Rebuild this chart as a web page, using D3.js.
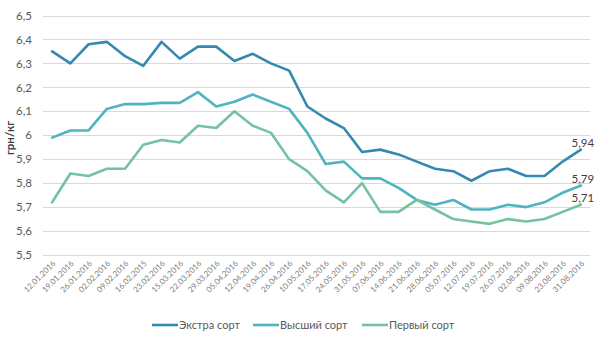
<!DOCTYPE html>
<html><head><meta charset="utf-8">
<script src="https://cdn.jsdelivr.net/npm/d3@7"></script>
<style>body{margin:0;background:#fff}svg{display:block;font-family:Lato,"Open Sans",sans-serif}</style>
</head><body><svg id="c" width="600" height="344"></svg>
<script>
const dates = ["12.01.2016","19.01.2016","26.01.2016","02.02.2016","09.02.2016","16.02.2015","23.02.2016","15.03.2016","22.03.2016","29.03.2016","05.04.2016","12.04.2016","19.04.2016","26.04.2016","10.05.2016","17.05.2016","24.05.2016","31.05.2016","07.06.2016","14.06.2016","21.06.2016","28.06.2016","05.07.2016","12.07.2016","19.07.2016","26.07.2016","02.08.2016","09.08.2016","23.08.2016","31.08.2016"];
const extra = [6.35,6.30,6.38,6.39,6.33,6.29,6.39,6.32,6.37,6.37,6.31,6.34,6.30,6.27,6.12,6.07,6.03,5.93,5.94,5.92,5.89,5.86,5.85,5.81,5.85,5.86,5.83,5.83,5.89,5.94];
const higher = [5.99,6.02,6.02,6.11,6.13,6.13,6.135,6.135,6.18,6.12,6.14,6.17,6.14,6.11,6.01,5.88,5.89,5.82,5.82,5.78,5.73,5.71,5.73,5.69,5.69,5.71,5.70,5.72,5.76,5.79];
const first = [5.72,5.84,5.83,5.86,5.86,5.96,5.98,5.97,6.04,6.03,6.10,6.04,6.01,5.90,5.85,5.77,5.72,5.80,5.68,5.68,5.73,5.69,5.65,5.64,5.63,5.65,5.64,5.65,5.68,5.71];
const seriesNames = ["Экстра сорт","Высший сорт","Первый сорт"];
const colors = ["#3589b1","#4fb4c0","#75c2a0"];
const yTicks = [5.5,5.6,5.7,5.8,5.9,6.0,6.1,6.2,6.3,6.4,6.5];
const series = [extra, higher, first];

const svg = d3.select("#c");
const x = d3.scaleBand().domain(dates).range([43,590]);
const y = d3.scaleLinear().domain([5.5,6.5]).range([255,15.5]);
const fmt = v => d3.format(".2~f")(v).replace(".", ",");

svg.append("g").selectAll("line").data(yTicks).join("line")
  .attr("x1",43).attr("x2",590).attr("y1",d=>Math.round(y(d))+0.5).attr("y2",d=>Math.round(y(d))+0.5)
  .attr("stroke","#d9d9d9").attr("stroke-width",1);

const yAxis = d3.axisLeft(y).tickValues(yTicks).tickSize(0).tickPadding(0)
  .tickFormat(d => d3.format(".1~f")(d).replace(".", ","));
const ya = svg.append("g").attr("transform","translate(32,0)").call(yAxis);
ya.select(".domain").remove();
ya.selectAll("text").attr("fill","#595959").style("font-size","11.5px").style("font-family","Lato,'Open Sans',sans-serif");

const xAxis = d3.axisBottom(x).tickSize(0).tickPadding(0);
const xa = svg.append("g").attr("transform","translate(0,258)").call(xAxis);
xa.select(".domain").remove();
xa.selectAll("text").attr("fill","#7f7f7f").style("font-size","8px").style("font-family","Lato,'Open Sans',sans-serif")
  .attr("text-anchor","end").attr("dy","0").attr("y",0)
  .attr("transform","translate(4,6) rotate(-45)");

svg.append("text").attr("transform","translate(14,138) rotate(-90)").attr("text-anchor","middle")
  .attr("font-weight","bold").attr("font-size","11.5px").attr("fill","#404040").text("грн/кг");

const line = d3.line().x((d,i)=>x(dates[i])+x.bandwidth()/2).y(d=>y(d));
series.forEach((s,k)=>{
  svg.append("path").datum(s).attr("d",line).attr("fill","none")
    .attr("stroke",colors[k]).attr("stroke-width",2.6).attr("stroke-linejoin","round").attr("stroke-linecap","round");
  const last = s[s.length-1];
  svg.append("text").attr("x",x(dates[dates.length-1])+x.bandwidth()/2+2).attr("y",y(last)-3)
    .attr("text-anchor","middle").attr("font-size","11.5px").attr("fill","#404040").text(fmt(last));
});

const legX = [152,253,362];
seriesNames.forEach((n,k)=>{
  const g = svg.append("g").attr("transform",`translate(${legX[k]},325)`);
  g.append("line").attr("x1",0).attr("x2",26).attr("y1",0).attr("y2",0).attr("stroke",colors[k]).attr("stroke-width",2.6);
  g.append("text").attr("x",27).attr("y",4).attr("font-size","11px").attr("fill","#595959").text(n);
});
</script></body></html>
